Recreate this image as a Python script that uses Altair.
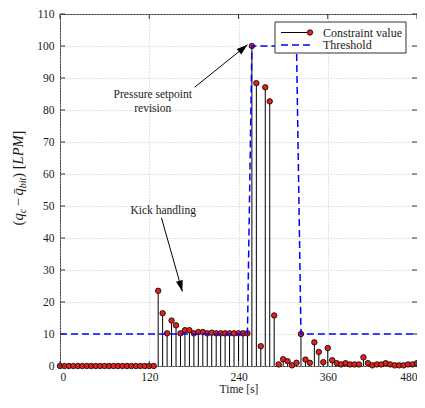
import altair as alt
import pandas as pd

# ---------------- data ----------------
time_s = [0, 6, 12, 18, 24, 30, 36, 42, 48, 54, 60, 66, 72, 78, 84, 90, 96, 102, 108, 114, 120, 126,
          132, 138, 144, 150, 156, 162, 168, 174, 180, 186, 192, 198, 204, 210, 216, 222, 228, 234,
          240, 246, 252, 258, 264, 270, 276, 282, 288, 294, 300, 306, 312, 318, 324, 330, 336, 342,
          348, 354, 360, 366, 372, 378, 384, 390, 396, 402, 408, 414, 420, 426, 432, 438, 444, 450,
          456, 462, 468, 474, 480]
constraint_value = [0, 0, 0, 0, 0, 0, 0, 0, 0, 0, 0, 0, 0, 0, 0, 0, 0, 0, 0, 0, 0, 0,
                    23.5, 16.5, 10.2, 14.2, 12.7, 10.2, 11.2, 11.2, 10.2, 10.6, 10.6, 10.2, 10.4,
                    10.2, 10.2, 10.2, 10.2, 10.2, 10.2, 10.2, 10.2,
                    100, 88.4, 6.2, 87.1, 82.7, 15.8, 0.5, 2.1, 1.5, 0.2, 1.0, 10.0,
                    2.0, 1.0, 7.4, 4.4, 1.2, 5.6, 1.8, 0.9, 0.5, 0.9, 0.5, 0.5, 0.5, 2.7,
                    0.9, 0.2, 0.5, 0.5, 0.9, 0.5, 0.2, 0.2, 0.2, 0.5, 0.5, 0.9]
threshold = [10, 10, 10, 10, 10, 10, 10, 10, 10, 10, 10, 10, 10, 10, 10, 10, 10, 10, 10, 10, 10, 10,
             10, 10, 10, 10, 10, 10, 10, 10, 10, 10, 10, 10, 10, 10, 10, 10, 10, 10, 10, 10, 10,
             100, 100, 100, 100, 100, 100, 100, 100, 100, 100, 100,
             10, 10, 10, 10, 10, 10, 10, 10, 10, 10, 10, 10, 10, 10, 10, 10, 10, 10, 10, 10, 10,
             10, 10, 10, 10, 10, 10]
x_ticks = [0, 120, 240, 360, 480]
y_ticks = [0, 10, 20, 30, 40, 50, 60, 70, 80, 90, 100, 110]

# annotations (data coordinates)
note_text = ["Pressure setpoint", "revision", "Kick handling"]
note_t = [124.7, 124.7, 138.7]
note_y = [84.6, 80.3, 48.4]
arrow_t0 = [181, 136.4]
arrow_y0 = [87.1, 46.3]
arrow_t1 = [252.1, 164.5]
arrow_y1 = [100.4, 23.3]
arrow_angle = [50.7, 164.3]

# ---------------- layout ----------------
W, H = 357, 352
FONT = "Liberation Serif"
TXT = "#1a1a1a"
RED = "#e3211c"
BLUE = "#0000ff"

df = pd.DataFrame({"t": time_s, "v": constraint_value, "thr": threshold})
one = alt.Data(values=[{"k": 0}])

xs = alt.Scale(domain=[0, 480], nice=False, zero=False)
ys = alt.Scale(domain=[0, 110], nice=False, zero=False)
x_axis = alt.Axis(values=x_ticks, title="Time [s]", ticks=False, domain=False, grid=True,
                  gridDash=[1, 2], gridColor="#c4c4c4", labelPadding=5, titlePadding=1)
y_axis = alt.Axis(values=y_ticks, title=None, ticks=False, domain=False, grid=True,
                  gridDash=[1, 2], gridColor="#c4c4c4", labelPadding=6)

X = lambda f: alt.X(f, scale=xs, axis=x_axis)
Y = lambda f: alt.Y(f, scale=ys, axis=y_axis)

base = alt.Chart(df)
stems = base.mark_rule(color="black", strokeWidth=1).encode(x=X("t:Q"), y=Y("v:Q"), y2=alt.datum(0))
dots = base.mark_point(filled=True, fill=RED, stroke="black", strokeWidth=0.8, opacity=1,
                       size=30, shape="circle").encode(x=X("t:Q"), y=Y("v:Q"))
thr = base.mark_line(color=BLUE, strokeDash=[7, 4], strokeWidth=1.5).encode(x=X("t:Q"), y=Y("thr:Q"))

# inward ticks on all four sides
xt = alt.Chart(pd.DataFrame({"v": x_ticks}))
yt = alt.Chart(pd.DataFrame({"v": y_ticks}))
TK = 5
tick_layers = [
    xt.mark_rule(color="#333").encode(x=X("v:Q"), y=alt.value(H), y2=alt.value(H - TK)),
    xt.mark_rule(color="#333").encode(x=X("v:Q"), y=alt.value(0), y2=alt.value(TK)),
    yt.mark_rule(color="#333").encode(y=Y("v:Q"), x=alt.value(0), x2=alt.value(TK)),
    yt.mark_rule(color="#333").encode(y=Y("v:Q"), x=alt.value(W), x2=alt.value(W - TK)),
]

# annotations
notes = alt.Chart(pd.DataFrame({"txt": note_text, "t": note_t, "y": note_y})).mark_text(
    font=FONT, fontSize=11.5, color=TXT, align="center", baseline="middle"
).encode(x=X("t:Q"), y=Y("y:Q"), text="txt:N")
arr_df = pd.DataFrame({"t0": arrow_t0, "y0": arrow_y0, "t1": arrow_t1, "y1": arrow_y1, "a": arrow_angle})
shafts = alt.Chart(arr_df).mark_rule(color="black", strokeWidth=1).encode(
    x=X("t0:Q"), y=Y("y0:Q"), x2="t1:Q", y2="y1:Q")
heads = alt.Chart(arr_df).mark_point(
    shape="M0,0L-0.7,2.2L0.7,2.2Z", filled=True, color="black", opacity=1, size=100
).encode(x=X("t1:Q"), y=Y("y1:Q"), angle=alt.Angle("a:Q", scale=None))

# legend (inside, top right)
LX0, LX1, LY0, LY1 = 215, 346, 8, 39
r1, r2 = 18.5, 31
leg = [
    alt.Chart(one).mark_rect(fill="white", stroke="#333", strokeWidth=1).encode(
        x=alt.value(LX0), x2=alt.value(LX1), y=alt.value(LY0), y2=alt.value(LY1)),
    alt.Chart(one).mark_rule(color="black", strokeWidth=1).encode(
        x=alt.value(221), x2=alt.value(250), y=alt.value(r1)),
    alt.Chart(one).mark_point(filled=True, fill=RED, stroke="black", strokeWidth=0.8, opacity=1,
                              size=30, shape="circle").encode(x=alt.value(250), y=alt.value(r1)),
    alt.Chart(one).mark_rule(color=BLUE, strokeWidth=1.5, strokeDash=[7, 4]).encode(
        x=alt.value(221), x2=alt.value(250), y=alt.value(r2)),
    alt.Chart(one).mark_text(text="Constraint value", font=FONT, fontSize=12, color=TXT,
                             align="left", baseline="middle").encode(x=alt.value(263), y=alt.value(r1)),
    alt.Chart(one).mark_text(text="Threshold", font=FONT, fontSize=12, color=TXT,
                             align="left", baseline="middle").encode(x=alt.value(263), y=alt.value(r2)),
]

# y-axis title built from pieces: (q_c - q̄_bit) [LPM]
MS, SS = 14.5, 10
pieces = [  # text, size, style, width in em, subscript
    ("(", MS, "normal", 0.333, False),
    ("q", MS, "italic", 0.5, False),
    ("c", SS, "italic", 0.444, True),
    (" ", MS, "normal", 0.18, False),
    ("\u2212", MS, "normal", 0.564, False),
    (" ", MS, "normal", 0.18, False),
    ("q\u0304", MS, "italic", 0.5, False),
    ("bit", SS, "italic", 1.056, True),
    (")", MS, "normal", 0.333, False),
    (" ", MS, "normal", 0.25, False),
    ("[", MS, "normal", 0.333, False),
    ("LPM", MS, "italic", 2.0, False),
    ("]", MS, "normal", 0.333, False),
]
total = sum(p[1] * p[3] for p in pieces)
bx = -37
ycur = 178 - 14 + total / 2
title_layers = []
for txt, sz, st, em, sub in pieces:
    if txt.strip():
        title_layers.append(
            alt.Chart(one).mark_text(text=txt, font=FONT, fontSize=sz, fontStyle=st, color=TXT,
                                     angle=270, align="left", baseline="alphabetic").encode(
                x=alt.value(bx + (3 if sub else 0)), y=alt.value(ycur)))
    ycur -= sz * em

chart = alt.layer(stems, dots, thr, *tick_layers, shafts, heads, notes, *leg, *title_layers).properties(
    width=W, height=H,
    autosize=alt.AutoSizeParams(type="none"),
    padding={"left": 52, "top": 6, "right": 0, "bottom": 30},
).configure_view(stroke="#333", strokeWidth=1).configure_axis(
    labelFont=FONT, labelFontSize=11.5, labelColor=TXT, titleFont=FONT, titleFontSize=11.5,
    titleColor=TXT, titleFontWeight="normal"
)

chart.save("out.html", embed_options={"renderer": "svg", "actions": False})
